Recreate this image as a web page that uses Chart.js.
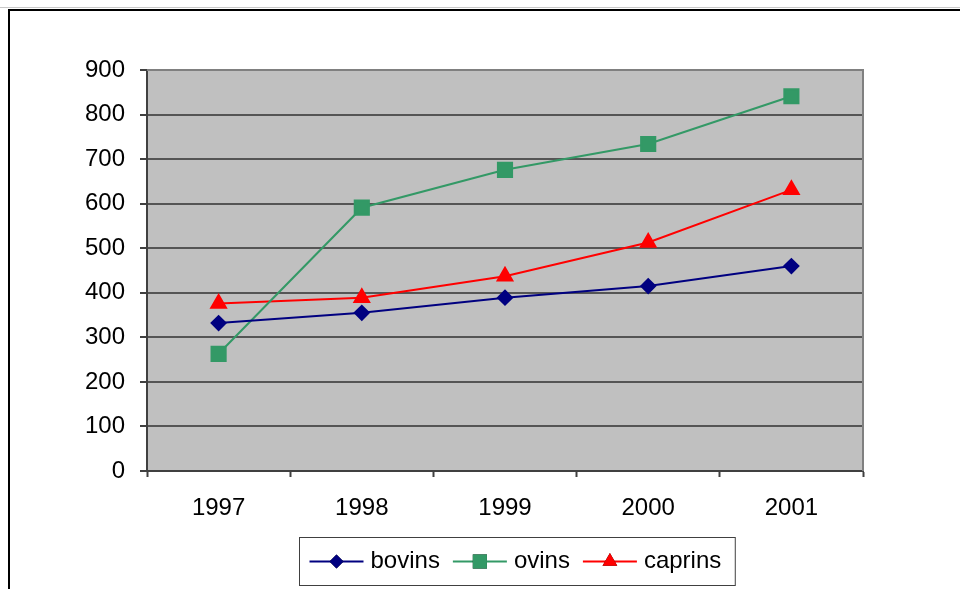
<!DOCTYPE html>
<html lang="fr">
<head>
  <meta charset="UTF-8">
  <title>Cheptel 1997-2001</title>
  <script src="https://cdn.jsdelivr.net/npm/chart.js"></script>
  <style>
    body { margin: 0; background: #ffffff; overflow: hidden; }
    #chart-container { width: 960px; height: 589px; position: relative; }
  </style>
</head>
<body>
  <div id="chart-container">
    <canvas id="cheptelChart"></canvas>
  </div>
  <script>
    // data
    const years = ['1997', '1998', '1999', '2000', '2001'];
    const bovins = [332, 355, 389, 415, 460];
    const ovins = [263, 591, 676, 734, 841];
    const caprins = [376, 389, 437, 513, 631];
    const yTicks = [0, 100, 200, 300, 400, 500, 600, 700, 800, 900];

    const FONT = "'Liberation Sans', Arial, sans-serif";

    // frame, grey plot background and the top/right border
    const framePlugin = {
      id: 'frame',
      beforeDraw(chart) {
        const c = chart.ctx;
        const a = chart.chartArea;
        c.save();
        c.fillStyle = '#ffffff';
        c.fillRect(0, 0, chart.width, chart.height);
        c.strokeStyle = '#c8c8c8';
        c.lineWidth = 1;
        c.beginPath();
        c.moveTo(0, 7.5);
        c.lineTo(chart.width, 7.5);
        c.stroke();
        c.strokeStyle = '#000000';
        c.lineWidth = 2;
        c.strokeRect(9, 10, chart.width + 20, chart.height + 20);
        c.fillStyle = '#c0c0c0';
        c.fillRect(a.left, a.top, a.right - a.left, a.bottom - a.top);
        c.restore();
      },
      beforeDatasetsDraw(chart) {
        const c = chart.ctx;
        const a = chart.chartArea;
        c.save();
        c.strokeStyle = '#808080';
        c.lineWidth = 2;
        c.beginPath();
        c.moveTo(a.left, a.top);
        c.lineTo(a.right, a.top);
        c.lineTo(a.right, a.bottom);
        c.stroke();
        c.restore();
      }
    };

    // legend in a box: line + marker + label
    const boxLegend = {
      id: 'boxLegend',
      afterDraw(chart) {
        const c = chart.ctx;
        const a = chart.chartArea;
        const lineLen = 54, gap = 7, itemGap = 13, padL = 10, padR = 14;
        c.save();
        c.font = '24px ' + FONT;
        const items = chart.data.datasets.map(ds => ({ ds, w: c.measureText(ds.label).width }));
        let total = padL + padR;
        items.forEach((it, i) => { total += lineLen + gap + it.w + (i ? itemGap : 0); });
        const cx = (a.left + a.right) / 2 + 12;
        const left = Math.round(cx - total / 2) + 0.5;
        const top = 537.5, h = 48;
        c.strokeStyle = '#404040';
        c.lineWidth = 1;
        c.strokeRect(left, top, total, h);
        const y = top + h / 2;
        let x = left + padL;
        items.forEach(it => {
          const ds = it.ds;
          c.strokeStyle = ds.borderColor;
          c.lineWidth = 2;
          c.beginPath();
          c.moveTo(x, y);
          c.lineTo(x + lineLen, y);
          c.stroke();
          Chart.helpers.drawPoint(c, {
            pointStyle: ds.pointStyle,
            radius: ds.pointRadius,
            borderWidth: 0,
            rotation: 0
          }, x + lineLen / 2, y);
          c.fillStyle = ds.pointBackgroundColor;
          c.fill();
          c.fillStyle = '#000000';
          c.textAlign = 'left';
          c.textBaseline = 'middle';
          c.fillText(ds.label, x + lineLen + gap, y);
          x += lineLen + gap + it.w + itemGap;
        });
        c.restore();
      }
    };

    const ctx = document.getElementById('cheptelChart').getContext('2d');
    const cheptelChart = new Chart(ctx, {
      type: 'line',
      data: {
        labels: years,
        datasets: [{
          label: 'bovins',
          data: bovins,
          borderColor: '#000080',
          backgroundColor: '#000080',
          pointBackgroundColor: '#000080',
          pointBorderColor: '#000080',
          pointStyle: 'rectRot',
          pointRadius: 7,
          borderWidth: 2
        }, {
          label: 'ovins',
          data: ovins,
          borderColor: '#339966',
          backgroundColor: '#339966',
          pointBackgroundColor: '#339966',
          pointBorderColor: '#339966',
          pointStyle: 'rect',
          pointRadius: 10,
          borderWidth: 2
        }, {
          label: 'caprins',
          data: caprins,
          borderColor: '#ff0000',
          backgroundColor: '#ff0000',
          pointBackgroundColor: '#ff0000',
          pointBorderColor: '#ff0000',
          pointStyle: 'triangle',
          pointRadius: 8.5,
          borderWidth: 2
        }]
      },
      options: {
        responsive: true,
        maintainAspectRatio: false,
        animation: false,
        layout: { padding: { top: 70, right: 97, left: 0, bottom: 0 } },
        elements: { line: { tension: 0 }, point: { borderWidth: 0, hoverRadius: 8 } },
        scales: {
          x: {
            offset: true,
            afterFit: s => { s.height = 118; },
            grid: {
              offset: true,
              drawOnChartArea: false,
              drawTicks: true,
              tickLength: 6,
              tickColor: '#404040',
              tickWidth: 2
            },
            border: { color: '#404040', width: 2 },
            ticks: {
              color: '#000000',
              font: { family: FONT, size: 24 },
              padding: 17,
              maxRotation: 0
            }
          },
          y: {
            min: 0,
            max: 900,
            afterFit: s => { s.width = 147; },
            afterBuildTicks: s => { s.ticks = yTicks.map(v => ({ value: v })); },
            grid: {
              color: c => (c.tick && c.tick.value === 900) ? '#808080' : '#555555',
              lineWidth: 2,
              drawTicks: true,
              tickLength: 7,
              tickColor: '#404040',
              tickWidth: 2
            },
            border: { color: '#404040', width: 2 },
            ticks: {
              color: '#000000',
              font: { family: FONT, size: 24 },
              padding: 15
            }
          }
        },
        plugins: {
          legend: { display: false },
          tooltip: { enabled: false }
        }
      },
      plugins: [framePlugin, boxLegend]
    });
  </script>
</body>
</html>
